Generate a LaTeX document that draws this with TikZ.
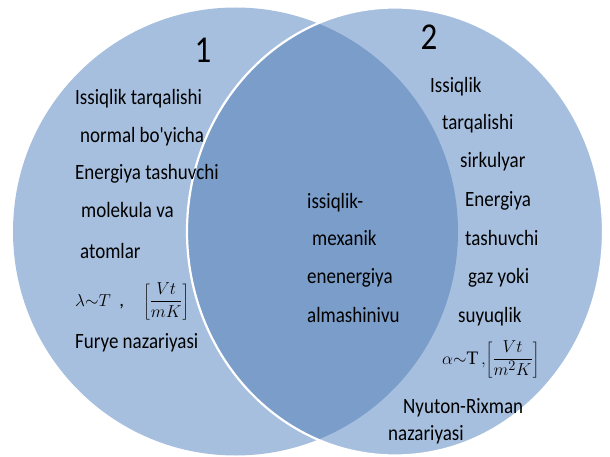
\documentclass[tikz,border=0pt]{standalone}
\usepackage{fontspec}
\setmainfont{Carlito}
\newfontfamily\plaincarlito{Carlito}
\newfontfamily\cambrialike{Liberation Serif}
\definecolor{lightblue}{RGB}{167,191,222}
\definecolor{darkblue}{RGB}{122,157,201}
\newcommand{\vst}[1]{\scalebox{1}[1.15]{#1}}
\tikzset{
  txt/.style={anchor=base west, inner sep=0pt, font=\fontsize{19}{19}\selectfont, text=black},
  num/.style={anchor=center, inner sep=0pt, font=\fontsize{33}{33}\selectfont, text=black}
}
\begin{document}
\begin{tikzpicture}[x=1pt,y=-1pt]
\useasboundingbox (0,0) rectangle (610,457);
% ellipses
\fill[lightblue] (235.5,231.5) ellipse [x radius=222.5, y radius=224];
\fill[lightblue] (395,231.5) ellipse [x radius=208, y radius=224];
\begin{scope}
  \clip (235.5,231.5) ellipse [x radius=222.5, y radius=224];
  \fill[darkblue] (395,231.5) ellipse [x radius=208, y radius=224];
\end{scope}
\draw[white, line width=2.2pt] (395,231.5) ellipse [x radius=208, y radius=224];
% numbers
\node[num] (n1) at (203,50) {\vst{1}};
\node[num] (n2) at (429,37) {\vst{2}};
% left column
\node[txt] (l1) at (75,105) {\vst{Issiqlik tarqalishi}};
\node[txt] (l2) at (80,143) {\vst{normal bo{\plaincarlito '}yicha}};
\node[txt] (l3) at (75,180) {\vst{Energiya tashuvchi}};
\node[txt] (l4) at (81,218) {\vst{molekula va}};
\node[txt] (l5) at (80,258) {\vst{atomlar}};
\node[txt] (l6) at (75,306) {$\displaystyle\lambda{\sim}T$\ \ ,\quad$\displaystyle\left[\frac{Vt}{mK}\right]$};
\node[txt] (l7) at (75,348) {\vst{Furye nazariyasi}};
% center column
\node[txt] (c1) at (307,208) {\vst{issiqlik-}};
\node[txt] (c2) at (312,245) {\vst{mexanik}};
\node[txt] (c3) at (307,283) {\vst{enenergiya}};
\node[txt] (c4) at (307,322) {\vst{almashinivu}};
% right column
\node[txt] (r1) at (430,93) {\vst{Issiqlik}};
\node[txt] (r2) at (442,130) {\vst{tarqalishi}};
\node[txt] (r3) at (460,168) {\vst{sirkulyar}};
\node[txt] (r4) at (465,207) {\vst{Energiya}};
\node[txt] (r5) at (465,245) {\vst{tashuvchi}};
\node[txt] (r6) at (468,283) {\vst{gaz yoki}};
\node[txt] (r7) at (458,322) {\vst{suyuqlik}};
\node[txt] (r8) at (442,364) {$\displaystyle\alpha{\sim}\mbox{\cambrialike T}\,,\!\left[\frac{Vt}{m^{2}K}\right]$};
\node[txt] (r9) at (403,413) {\vst{Nyuton-Rixman}};
\node[txt] (r10) at (388,440) {\vst{nazariyasi}};
\end{tikzpicture}
\end{document}
